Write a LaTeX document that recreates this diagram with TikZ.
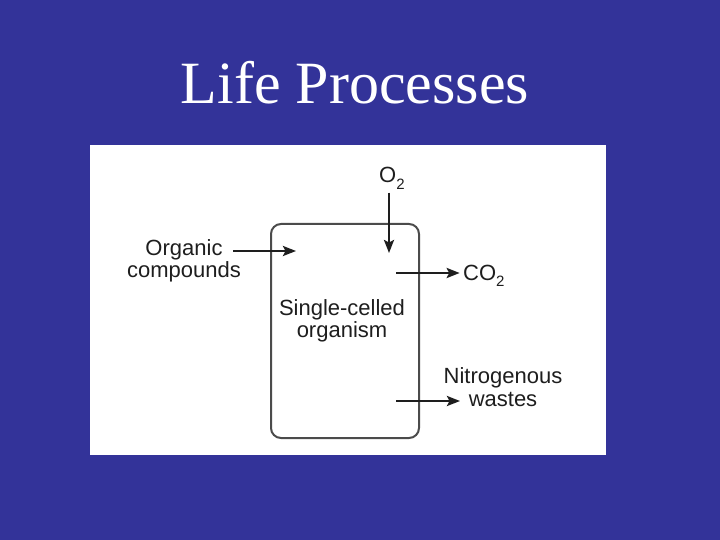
\documentclass[tikz,border=0pt]{standalone}
\usepackage{fontspec}
\setmainfont{Liberation Serif}
\newfontfamily\diagfont{Liberation Sans}
\usetikzlibrary{arrows.meta}

\definecolor{slideblue}{RGB}{51,51,153}
\definecolor{inkgray}{RGB}{30,30,30}
\definecolor{rimgray}{RGB}{75,75,75}

% lowered subscript two, as in O2 and CO2
\newcommand{\subtwo}{\raisebox{-0.28em}{\fontsize{15}{15}\selectfont 2}}

\begin{document}
\begin{tikzpicture}[x=1pt, y=-1pt,
    label/.style={font=\diagfont\fontsize{22}{22.5}\selectfont, text=inkgray, align=center},
    cellbox/.style={draw=rimgray, line width=2pt, rounded corners=10pt,
        minimum width=148pt, minimum height=214pt},
    flow/.style={line width=2.5pt, draw=inkgray,
        -{Stealth[length=13pt, width=10pt, inset=2.5pt]}}]
    % Slide
    \fill[slideblue] (0, 0) rectangle (720, 540);
    \node[font=\fontsize{60}{60}\selectfont, text=white, anchor=base] (title) at (355, 104) {Life Processes};
    \fill[white] (90, 145) rectangle (606, 455);

    % Cell
    \node[cellbox] (cell) at (345, 331) {};
    \node[label] (cellname) at (342, 321) {Single-celled\\organism};

    % Inputs
    \node[label] (organic) at (184, 261) {Organic\\compounds};
    \node[label, anchor=base west] (o2) at (375.7, 183) {O\subtwo};
    \coordinate (orgstart) at (233, 251);
    \coordinate (orgend) at (296, 251);
    \coordinate (o2end) at (389, 253);
    \draw[flow] (orgstart) -- (orgend);
    \draw[flow] (o2.south -| o2end) -- (o2end);

    % Outputs
    \node[label, anchor=base west] (co2) at (459.7, 280) {CO\subtwo};
    \node[label] (nitro) at (503, 387) {Nitrogenous\\wastes};
    \coordinate (co2start) at (396, 273);
    \coordinate (nitstart) at (396, 401);
    \coordinate (nitend) at (460, 401);
    \draw[flow] (co2start) -- (co2start -| co2.west);
    \draw[flow] (nitstart) -- (nitend);
\end{tikzpicture}
\end{document}
